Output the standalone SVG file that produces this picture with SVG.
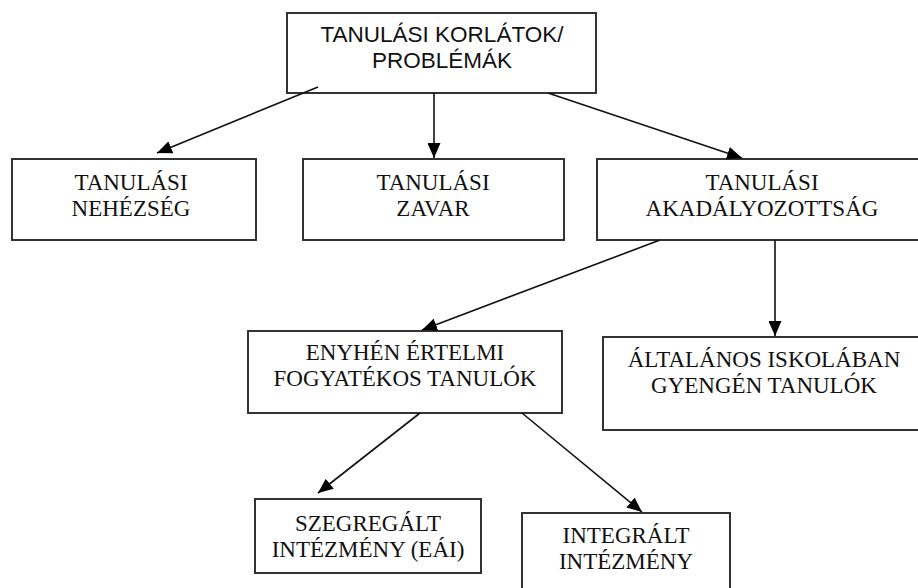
<svg xmlns="http://www.w3.org/2000/svg" width="918" height="588" viewBox="0 0 918 588">
  <defs>
    <marker id="arrow" markerUnits="userSpaceOnUse" markerWidth="15" markerHeight="13" refX="15" refY="6.5" orient="auto">
      <path d="M0,0 L15,6.5 L0,13 Z" fill="#000"/>
    </marker>
  </defs>
  <style>
    .box { fill: #fff; stroke: #333; stroke-width: 2; }
    .serif { font-family: "Liberation Serif", "Times New Roman", serif; font-size: 23px; fill: #111; text-anchor: middle; }
    .sans { font-family: "Liberation Sans", Arial, sans-serif; font-size: 22.5px; fill: #111; text-anchor: middle; }
    .edge { stroke: #111; stroke-width: 1.6; fill: none; marker-end: url(#arrow); }
  </style>
  <rect width="918" height="588" fill="#fff"/>

  <g id="root">
    <rect class="box" x="287" y="13" width="309" height="80"/>
    <text class="sans" x="442" y="42">TANULÁSI KORLÁTOK/</text>
    <text class="sans" x="442" y="68">PROBLÉMÁK</text>
  </g>

  <g id="nehezseg">
    <rect class="box" x="12" y="159" width="244" height="81"/>
    <text class="serif" x="131" y="190">TANULÁSI</text>
    <text class="serif" x="131" y="216">NEHÉZSÉG</text>
  </g>

  <g id="zavar">
    <rect class="box" x="303" y="159" width="261" height="81"/>
    <text class="serif" x="433" y="190">TANULÁSI</text>
    <text class="serif" x="433" y="216">ZAVAR</text>
  </g>

  <g id="akadalyozottsag">
    <rect class="box" x="597" y="159" width="330" height="81"/>
    <text class="serif" x="762" y="190">TANULÁSI</text>
    <text class="serif" x="762" y="216">AKADÁLYOZOTTSÁG</text>
  </g>

  <g id="enyhen">
    <rect class="box" x="248" y="331" width="314" height="82"/>
    <text class="serif" x="405" y="360">ENYHÉN ÉRTELMI</text>
    <text class="serif" x="405" y="386">FOGYATÉKOS TANULÓK</text>
  </g>

  <g id="altalanos">
    <rect class="box" x="603" y="337" width="330" height="93"/>
    <text class="serif" x="764" y="367">ÁLTALÁNOS ISKOLÁBAN</text>
    <text class="serif" x="764" y="393">GYENGÉN TANULÓK</text>
  </g>

  <g id="szegregalt">
    <rect class="box" x="255" y="499" width="226" height="74"/>
    <text class="serif" x="368" y="531">SZEGREGÁLT</text>
    <text class="serif" x="368" y="557">INTÉZMÉNY (EÁI)</text>
  </g>

  <g id="integralt">
    <rect class="box" x="522" y="513" width="208" height="90"/>
    <text class="serif" x="626" y="543">INTEGRÁLT</text>
    <text class="serif" x="626" y="569">INTÉZMÉNY</text>
  </g>

  <g id="connectors">
    <line class="edge" x1="318" y1="87" x2="157" y2="153"/>
    <line class="edge" x1="434" y1="93" x2="434" y2="158"/>
    <line class="edge" x1="548" y1="93" x2="742" y2="158"/>
    <line class="edge" x1="660" y1="240" x2="422" y2="330"/>
    <line class="edge" x1="775" y1="240" x2="775" y2="336"/>
    <line class="edge" x1="420" y1="413" x2="318" y2="493"/>
    <line class="edge" x1="522" y1="413" x2="642" y2="512"/>
  </g>
</svg>
